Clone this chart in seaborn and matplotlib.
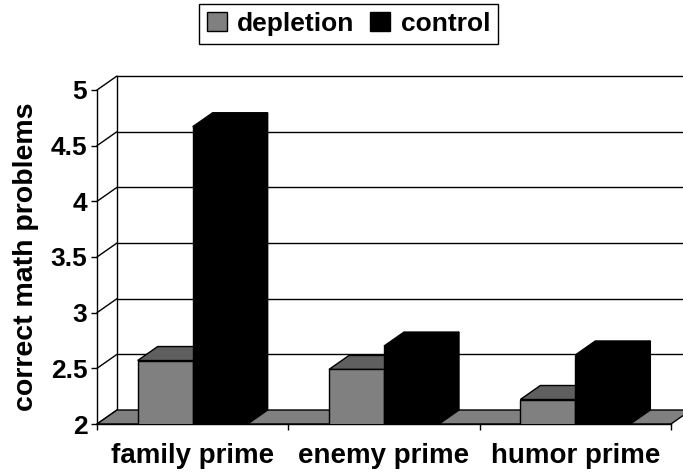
import matplotlib
matplotlib.use("Agg")
import matplotlib.pyplot as plt
import seaborn as sns
import pandas as pd
from matplotlib.patches import Polygon, Rectangle
from matplotlib.lines import Line2D

# ---- data ----
categories = ["family prime", "enemy prime", "humor prime"]
series = ["depletion", "control"]
depletion = [2.57, 2.49, 2.22]
control = [4.67, 2.70, 2.62]
y_ticks = [2, 2.5, 3, 3.5, 4, 4.5, 5]
y_tick_labels = ["2", "2.5", "3", "3.5", "4", "4.5", "5"]
y_label = "correct math problems"

front_colors = {"depletion": "#808080", "control": "#000000"}
top_colors = {"depletion": "#5f5f5f", "control": "#000000"}
side_colors = {"depletion": "#4a4a4a", "control": "#000000"}

df = pd.DataFrame({
    "prime": categories * 2,
    "condition": ["depletion"] * len(depletion) + ["control"] * len(control),
    "value": depletion + control,
})

sns.set_theme(style="white")
plt.rcParams["font.family"] = ["Liberation Sans", "DejaVu Sans"]
plt.rcParams["font.weight"] = "bold"
for k in ["text.color", "axes.labelcolor", "xtick.color", "ytick.color"]:
    plt.rcParams[k] = "black"

W, H = 683, 474
fig = plt.figure(figsize=(W / 100, H / 100), dpi=100)
ax = fig.add_axes([97 / W, 50 / H, 574 / W, 334 / H])

sns.barplot(data=df, x="prime", y="value", hue="condition", order=categories,
            hue_order=series, palette=front_colors, saturation=1, width=0.575,
            edgecolor="black", linewidth=1, legend=False, ax=ax, errorbar=None)

ax.set_xlim(-0.5, len(categories) - 0.5)
ax.set_ylim(y_ticks[0], y_ticks[-1])
ax.set_facecolor("none")

# depth offset of 3-D effect (pixels) converted to data units
DEPTH_PX = (20, 14)
p0 = ax.transData.transform((0, 2))
p1 = ax.transData.transform((1, 3))
dx = DEPTH_PX[0] / (p1[0] - p0[0])
dy = DEPTH_PX[1] / (p1[1] - p0[1])
xmin, xmax = ax.get_xlim()
base, ytop = ax.get_ylim()

# back wall + side wall lines
wall_kw = dict(color="black", lw=1, clip_on=False, zorder=1)
ax.add_line(Line2D([xmin + dx, xmin + dx], [base + dy, ytop + dy], **wall_kw))
for v in y_ticks:
    ax.add_line(Line2D([xmin, xmin + dx], [v, v + dy], **wall_kw))
    if v > base:
        ax.add_line(Line2D([xmin + dx, xmax + dx + 1], [v + dy, v + dy], **wall_kw))

# floor
ax.add_patch(Polygon([(xmin, base), (xmax, base), (xmax + dx, base + dy), (xmin + dx, base + dy)],
                     closed=True, fc="#808080", ec="black", lw=1, clip_on=False, zorder=1.5))

# 3-D faces on bars
bars = [p for p in ax.patches if isinstance(p, Rectangle) and p.get_height() > 0 and p.get_width() < 1]
bars.sort(key=lambda p: p.get_x())
for i, p in enumerate(bars):
    x0 = p.get_x()
    x1 = x0 + p.get_width()
    top = p.get_y() + p.get_height()
    fc = p.get_facecolor()
    name = "control" if sum(fc[:3]) < 0.1 else "depletion"
    z = 3 + i * 0.1
    ax.add_patch(Polygon([(x1, base), (x1, top), (x1 + dx, top + dy), (x1 + dx, base + dy)],
                         closed=True, fc=side_colors[name], ec="black", lw=1, clip_on=False, zorder=z))
    ax.add_patch(Polygon([(x0, top), (x1, top), (x1 + dx, top + dy), (x0 + dx, top + dy)],
                         closed=True, fc=top_colors[name], ec="black", lw=1, clip_on=False, zorder=z))
    p.set_zorder(z + 0.05)

# spines
for s in ["top", "right"]:
    ax.spines[s].set_visible(False)
for s in ["left", "bottom"]:
    ax.spines[s].set_color("black")
    ax.spines[s].set_linewidth(1)
    ax.spines[s].set_zorder(2)

ax.set_yticks(y_ticks, y_tick_labels)
ax.tick_params(axis="y", which="major", length=4, width=1, color="black", direction="out",
               pad=3, labelsize=19, left=True, labelcolor="black")
ax.set_xticks(range(len(categories)), categories)
ax.set_xticks([c - 0.5 for c in range(len(categories) + 1)], minor=True)
ax.tick_params(axis="x", which="major", length=0, pad=14, labelsize=20, labelcolor="black")
ax.tick_params(axis="x", which="minor", length=4, width=1, color="black", direction="out", bottom=True)
for lab in ax.get_xticklabels() + ax.get_yticklabels():
    lab.set_fontweight("bold")

ax.set_xlabel("")
ax.set_ylabel(y_label, fontsize=20.5, fontweight="bold", labelpad=8, color="black")

handles = [Rectangle((0, 0), 1, 1, fc=front_colors[s], ec="black", lw=1) for s in series]
leg = fig.legend(handles, series, loc="upper center", bbox_to_anchor=(348.5 / W, 1 - 4 / H),
                 ncol=2, frameon=True, fancybox=False, framealpha=1, edgecolor="black",
                 fontsize=19, handlelength=0.75, handleheight=0.75, handletextpad=0.4,
                 columnspacing=0.6, borderpad=0.3, borderaxespad=0)
leg.get_frame().set_linewidth(1)
for t in leg.get_texts():
    t.set_fontweight("bold")
    t.set_color("black")

fig.savefig("out.png", dpi=100)
